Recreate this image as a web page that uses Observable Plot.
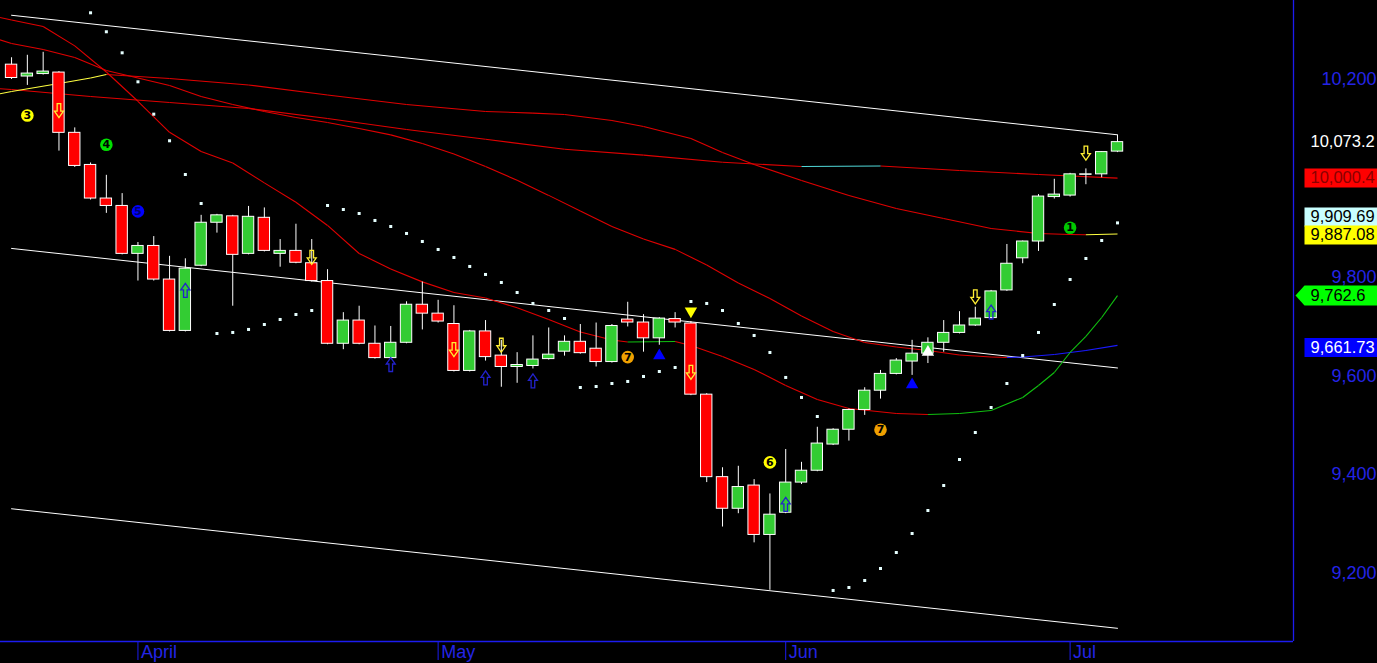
<!DOCTYPE html>
<html><head><meta charset="utf-8">
<script src="https://cdn.jsdelivr.net/npm/d3@7"></script>
<script src="https://cdn.jsdelivr.net/npm/@observablehq/plot@0.6"></script>
<style>html,body{margin:0;padding:0;background:#000;overflow:hidden}</style>
</head><body><div id="chart"></div>
<script>
// ---- candle data (index = trading day) ----
const opens  = [10230,10206,10211,10214,10092,10027,9959,9944,9847,9863,9795,9691,9823,9910,9923,9847,9920,9847,9853,9828,9792,9665,9712,9665,9636,9667,9744,9726,9705,9610,9690,9641,9618,9620,9634,9649,9669,9655,9628,9714,9708,9676,9715,9706,9562,9395,9331,9378,9278,9323,9384,9408,9461,9491,9531,9570,9604,9629,9645,9667,9687,9702,9717,9773,9838,9872,9962,9965,10007,10008,10054];
const highs  = [10244,10249,10255,10216,10102,10031,10006,9969,9870,9882,9842,9837,9925,9927,9925,9943,9940,9876,9907,9876,9815,9728,9741,9701,9700,9750,9790,9753,9742,9692,9712,9672,9647,9681,9697,9681,9704,9707,9704,9749,9724,9718,9728,9710,9564,9414,9417,9390,9361,9451,9425,9496,9493,9533,9576,9611,9635,9672,9677,9712,9730,9739,9773,9866,9873,9967,9998,10010,10019,10054,10087];
const lows   = [10200,10188,10209,10055,10022,9956,9929,9845,9792,9792,9689,9689,9821,9889,9741,9845,9851,9820,9827,9790,9663,9653,9663,9634,9634,9665,9693,9707,9608,9608,9630,9577,9585,9614,9632,9640,9644,9618,9626,9699,9648,9662,9697,9560,9384,9294,9321,9262,9166,9321,9380,9406,9459,9468,9520,9553,9602,9601,9625,9648,9685,9700,9715,9771,9827,9852,9958,9962,9987,10001,10052];
const closes = [10203,10212,10216,10092,10025,9959,9944,9847,9863,9795,9691,9817,9910,9925,9845,9922,9853,9853,9829,9792,9665,9712,9665,9636,9667,9744,9726,9710,9610,9690,9638,9618,9622,9633,9643,9669,9646,9628,9701,9708,9676,9716,9708,9562,9395,9331,9375,9278,9319,9384,9408,9463,9491,9531,9570,9604,9631,9645,9667,9687,9702,9716,9771,9827,9872,9963,9967,10008,10008,10053,10073.2];

// ---- axes ----
const monthTickIndex  = [8, 27, 49, 67];
const monthTickLabels = ["April", "May", "Jun", "Jul"];
const priceTicks = [9200, 9400, 9600, 9800, 10200];

// ---- regression channel ----
const channelIndex  = [0, 70];
const channelUpper  = [10330, 10088];
const channelMiddle = [9858, 9616];
const channelLower  = [9331, 9089];

// ---- moving averages ----
const maLongIndex  = [-1,0,5,10,15,20,25,30,35,40,45,50,55,60,65,70];
const maLongValues = [10181.8,10179.8,10165.6,10153.4,10141.3,10121.1,10098.8,10078.9,10058.7,10046.8,10032.6,10023.9,10024.9,10015.8,10007.7,10000.4];

const maMidIndex  = [-1,0,3,5,6,7,10,15,20,25,30,33,35,38,40,43,45,47,50,53,56,59,62,65,67,68,70];
const maMidValues = [10169.6,10175.7,10191.9,10203,10210.1,10208.1,10202,10188.9,10168.6,10149.4,10135.2,10132,10129.1,10117,10104.9,10080.6,10052.2,10027.9,9995.5,9965.2,9938.9,9918.6,9898.4,9888.3,9886.2,9885.8,9887.08];

const maFastIndex  = [-1,0,2,4,6,8,10,12,14,16,18,20,22,24,26,28,30,32,34,36,38,39,42,43,45,47,49,51,53,56,58,60,62,64,65,66,67,68,69,70];
const maFastValues = [10327.5,10320.4,10307.3,10268,10215.2,10155.9,10093.1,10054.3,10031,9990.7,9951.4,9904.5,9847.8,9816.6,9790.3,9768.8,9757.5,9737.9,9714.2,9688.7,9672.5,9668.6,9669.6,9661.6,9639.3,9613,9580.6,9552.2,9534,9523.9,9521.9,9523.9,9530,9556.3,9580.6,9606.9,9647.4,9679.8,9718.2,9762.6];

const maSlowIndex  = [-1,0,2,4,6,8,10,12,14,16,18,20,22,24,26,28,30,32,34,36,38,40,42,44,46,48,50,52,54,56,58,60,62,63,64,66,68,70];
const maSlowValues = [10283,10272.9,10260.7,10244.5,10218.2,10203,10187.9,10165.6,10149.4,10135.2,10123.1,10113,10100.8,10087.9,10070.4,10049,10023.9,9995.9,9965.4,9933.8,9902.4,9876.9,9856.1,9824.5,9788.1,9756.7,9721.3,9689.9,9667.6,9658.5,9651.4,9642.3,9638.3,9637.2,9638.3,9643.3,9651.4,9661.73];

// ---- parabolic SAR ----
const sarIndex  = [5,6,7,8,9,10,11,12,13,14,15,16,17,18,19,20,21,22,23,24,25,26,27,28,29,30,31,32,33,34,35,36,37,38,39,40,41,42,43,44,45,46,47,48,49,50,51,52,53,54,55,56,57,58,59,60,61,62,63,64,65,66,67,68,69,70];
const sarValues = [10335,10296.6,10254,10195.3,10129.8,10075.9,10007.7,9949,9685.8,9687.9,9694,9704,9714.2,9724.3,9732.4,9944.9,9936.8,9928.7,9914.6,9902.4,9888.3,9872.1,9855.9,9839.7,9821.5,9805.3,9789.1,9768.8,9746.6,9732.4,9716.2,9576.5,9578.5,9584.6,9588.7,9598.8,9608.9,9617,9750.6,9746.6,9732.4,9706.1,9681.8,9647.4,9596.8,9556.3,9517.8,9165.6,9171.6,9185.8,9210.1,9242.5,9280.9,9327.5,9378.1,9430.7,9485.4,9536,9584.6,9641.3,9687.9,9744.5,9795.1,9837.6,9874.1,9909.7];

// ---- signal markers ----
const countIndex  = [1, 6, 8, 39, 48, 55, 67];
const countValues = [10127, 10068, 9933, 9638, 9425, 9491, 9900];
const countLabels = ["3", "4", "5", "7", "6", "7", "1"];

const downArrowIndex  = [3, 19, 28, 31, 43, 61, 68];
const downArrowValues = [10137, 9840, 9653, 9662, 9607, 9760, 10051];
const upArrowIndex    = [11, 24, 30, 33, 49, 62];
const upArrowValues   = [9773, 9623, 9596, 9590, 9340, 9729];

const blueTriIndex  = [41, 57];
const blueTriValues = [9641, 9582];
const whiteTriIndex  = [58];
const whiteTriValues = [9648];
const yellowTriIndex  = [43];
const yellowTriValues = [9731];

// ---- last-value labels ----
const lastValues = [10073.2, 10000.4, 9909.69, 9887.08, 9762.6, 9661.73];
const lastTexts  = ["10,073.2", "10,000.4", "9,909.69", "9,887.08", "9,762.6", "9,661.73"];

// ================= build =================
const candles = opens.map((o, i) => ({i, o, h: highs[i], l: lows[i], c: closes[i]}));
const pts = (idx, vals) => idx.map((x, k) => ({x, y: vals[k]}));
const segs = (idx, vals) => idx.slice(0, -1).map((x, k) => ({x1: x, y1: vals[k], x2: idx[k + 1], y2: vals[k + 1], up: vals[k + 1] > vals[k]}));

const RED = "#e00000";
function maMarks(idx, vals, upColor) {
  const s = segs(idx, vals);
  return [
    Plot.link(s, {filter: d => !d.up, x1: "x1", y1: "y1", x2: "x2", y2: "y2", stroke: RED, strokeWidth: 1.1, clip: true}),
    Plot.link(s, {filter: d => d.up, x1: "x1", y1: "y1", x2: "x2", y2: "y2", stroke: upColor, strokeWidth: 1.1, clip: true})
  ];
}

const arrowUp = {draw(ctx) {
  ctx.moveTo(0, -7); ctx.lineTo(4.5, -0.5); ctx.lineTo(1.8, -0.5); ctx.lineTo(1.8, 7);
  ctx.lineTo(-1.8, 7); ctx.lineTo(-1.8, -0.5); ctx.lineTo(-4.5, -0.5); ctx.closePath();
}};
const arrowDown = {draw(ctx) {
  ctx.moveTo(0, 7); ctx.lineTo(4.5, 0.5); ctx.lineTo(1.8, 0.5); ctx.lineTo(1.8, -7);
  ctx.lineTo(-1.8, -7); ctx.lineTo(-1.8, 0.5); ctx.lineTo(-4.5, 0.5); ctx.closePath();
}};
const boxSym = {draw(ctx) {
  ctx.moveTo(0, -9.5); ctx.lineTo(90, -9.5); ctx.lineTo(90, 9.5); ctx.lineTo(0, 9.5); ctx.closePath();
}};
const pointerSym = {draw(ctx) {
  ctx.moveTo(-9, 0); ctx.lineTo(0, -10); ctx.lineTo(90, -10); ctx.lineTo(90, 10); ctx.lineTo(0, 10); ctx.closePath();
}};

const countData = countIndex.map((x, k) => ({x, y: countValues[k], t: countLabels[k]}));

const labelStyles = [
  {box: null, text: "#ffffff", dy: 0},
  {box: "#ff0000", text: "#8a0000", dy: 0},
  {box: "#c8ffff", text: "#000000", dy: -6},
  {box: "#ffff00", text: "#000000", dy: 1},
  {box: "#00ff00", text: "#000000", dy: 0, pointer: true},
  {box: "#0000ff", text: "#ffffff", dy: 2}
];
const labelMarks = [];
lastValues.forEach((v, k) => {
  const st = labelStyles[k];
  if (st.box) labelMarks.push(Plot.dot([v], {y: d => d, frameAnchor: "right", dx: 11, dy: st.dy, symbol: st.pointer ? pointerSym : boxSym, fill: st.box, stroke: "none"}));
  labelMarks.push(Plot.text([v], {y: d => d, frameAnchor: "right", dx: 17, dy: st.dy, textAnchor: "start", text: () => lastTexts[k], fill: st.text, fontSize: 16.5}));
});

const xDomain = [-0.7, 81.14];
const yDomain = [9062.3, 10359.9];
const AXIS = "#1c1cf0";
const AXTEXT = "#2424e6";

const chart = Plot.plot({
  width: 1377, height: 663,
  marginLeft: 0, marginRight: 84, marginTop: 0, marginBottom: 22,
  x: {type: "linear", domain: xDomain, axis: null},
  y: {type: "linear", domain: yDomain, axis: null},
  style: {background: "#000", color: "#fff", fontFamily: "'Liberation Sans', Arial, sans-serif"},
  marks: [
    // channel
    Plot.line(pts(channelIndex, channelUpper), {x: "x", y: "y", stroke: "#ffffff", strokeWidth: 1, clip: true}),
    Plot.line(pts(channelIndex, channelMiddle), {x: "x", y: "y", stroke: "#ffffff", strokeWidth: 1, clip: true}),
    Plot.line(pts(channelIndex, channelLower), {x: "x", y: "y", stroke: "#ffffff", strokeWidth: 1, clip: true}),
    // moving averages
    ...maMarks(maLongIndex, maLongValues, "#50d8d8"),
    ...maMarks(maMidIndex, maMidValues, "#ffff40"),
    ...maMarks(maSlowIndex, maSlowValues, "#1a1aff"),
    ...maMarks(maFastIndex, maFastValues, "#10c010"),
    // SAR
    Plot.dot(pts(sarIndex, sarValues), {x: "x", y: "y", symbol: "square", r: 1.7, fill: "#e6ffff", clip: true}),
    // candles
    Plot.ruleX(candles, {x: "i", y1: "l", y2: "h", stroke: "#ffffff", strokeWidth: 1}),
    Plot.rect(candles, {filter: d => d.c < d.o, x1: d => d.i - 0.36, x2: d => d.i + 0.36, y1: "o", y2: "c", fill: "#ff0000", stroke: "#ffffff", strokeWidth: 1}),
    Plot.rect(candles, {filter: d => d.c >= d.o, x1: d => d.i - 0.36, x2: d => d.i + 0.36, y1: "o", y2: "c", fill: "#33cc33", stroke: "#ffffff", strokeWidth: 1}),
    // triangles
    Plot.dot(pts(blueTriIndex, blueTriValues), {x: "x", y: "y", symbol: "triangle", r: 4.6, fill: "#0000ff"}),
    Plot.dot(pts(whiteTriIndex, whiteTriValues), {x: "x", y: "y", symbol: "triangle", r: 4.6, fill: "#ffffff"}),
    Plot.dot(pts(yellowTriIndex, yellowTriValues), {x: "x", y: "y", symbol: "triangle", r: 4.6, rotate: 180, fill: "#ffff00"}),
    // arrows
    Plot.dot(pts(downArrowIndex, downArrowValues), {x: "x", y: "y", symbol: arrowDown, fill: "none", stroke: "#ffee33", strokeWidth: 1.3}),
    Plot.dot(pts(upArrowIndex, upArrowValues), {x: "x", y: "y", symbol: arrowUp, fill: "none", stroke: "#2222cc", strokeWidth: 1.3}),
    // count circles
    Plot.dot(countData, {filter: d => d.t === "3" || d.t === "6", x: "x", y: "y", r: 6.3, fill: "#ffff00"}),
    Plot.dot(countData, {filter: d => d.t === "4", x: "x", y: "y", r: 6.3, fill: "#00e000"}),
    Plot.dot(countData, {filter: d => d.t === "1", x: "x", y: "y", r: 6.3, fill: "#00c800"}),
    Plot.dot(countData, {filter: d => d.t === "5", x: "x", y: "y", r: 6.3, fill: "#0000ff"}),
    Plot.dot(countData, {filter: d => d.t === "7", x: "x", y: "y", r: 6.3, fill: "#f0a000"}),
    Plot.text(countData, {filter: d => d.t !== "5", x: "x", y: "y", text: "t", fill: "#000000", fontSize: 11, fontWeight: "bold", fontFamily: "'DejaVu Sans', sans-serif"}),
    Plot.text(countData, {filter: d => d.t === "5", x: "x", y: "y", text: "t", fill: "#000070", fontSize: 11, fontWeight: "bold", fontFamily: "'DejaVu Sans', sans-serif"}),
    // frame lines
    Plot.ruleY([yDomain[0]], {stroke: AXIS, strokeWidth: 1.3}),
    Plot.ruleX([xDomain[1]], {stroke: AXIS, strokeWidth: 1.3}),
    // month axis: tick marks, then labels to the right of each tick
    Plot.axisX(monthTickIndex, {anchor: "bottom", tickSize: 19, tickFormat: () => "", color: AXIS, label: null}),
    Plot.text(monthTickIndex, {x: d => d, frameAnchor: "bottom", lineAnchor: "middle", dx: 3, dy: 11, textAnchor: "start", text: d => monthTickLabels[monthTickIndex.indexOf(d)], fill: AXTEXT, fontSize: 18}),
    // price ticks
    Plot.text(priceTicks, {y: d => d, frameAnchor: "right", dx: 83, textAnchor: "end", text: d => d3.format(",")(d), fill: AXTEXT, fontSize: 18}),
    ...labelMarks
  ]
});
document.getElementById("chart").appendChild(chart);
</script>
</body></html>
